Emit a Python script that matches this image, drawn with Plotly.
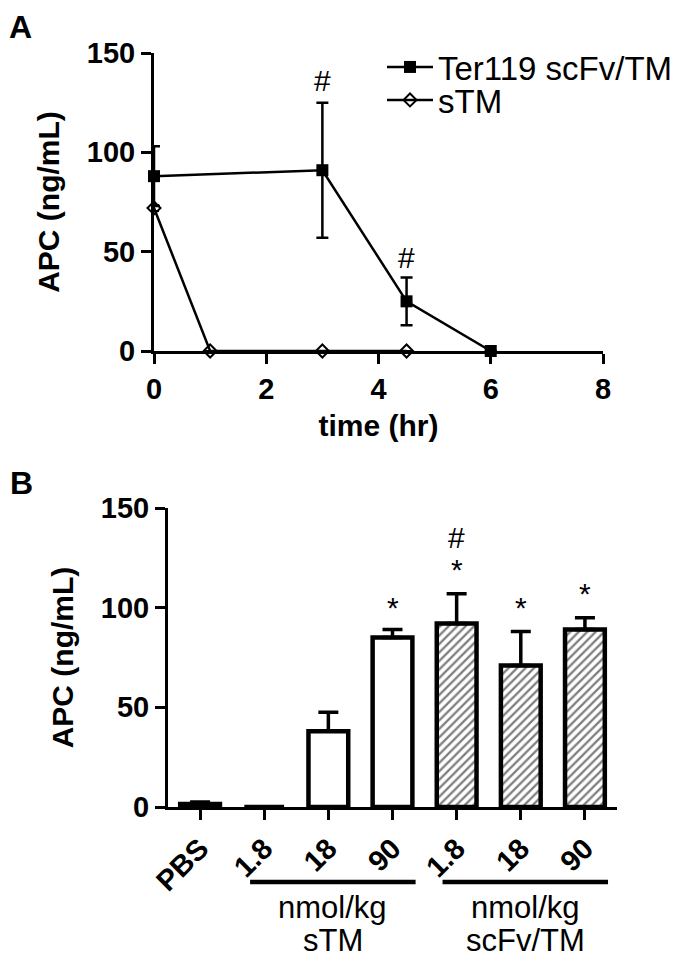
import plotly.graph_objects as go

OFF = 8  # browser default body margin
W, H = 680 - OFF, 962 - OFF
FONT = "Liberation Sans"

# ---------------- Panel A data ----------------
time_ter = [0, 3, 4.5, 6]
apc_ter = [88, 91, 25, 0]
err_ter = [15, 34, 12, 0]
time_stm = [0, 1, 3, 4.5]
apc_stm = [72, 0, 0, 0]
err_stm = [1.5, 0, 0, 0]
a_xticks = [0, 2, 4, 6, 8]
a_yticks = [0, 50, 100, 150]
a_marks_x = [3, 4.5]
a_marks_y = [136, 47]

# ---------------- Panel B data ----------------
b_labels = ["PBS", "1.8", "18", "90", "1.8", "18", "90"]
b_values = [1.5, 0, 38, 85, 92, 71, 89]
b_errors = [1, 0, 9.5, 4, 15, 17, 6]
b_hatched = [False, False, False, False, True, True, True]
b_yticks = [0, 50, 100, 150]
b_star_x = [3, 4, 5, 6]
b_star_y = [100, 119, 100, 107]
b_hash_x = [4]
b_hash_y = [135]
groups = [("nmol/kg", "sTM", 1, 3), ("nmol/kg", "scFv/TM", 4, 6)]

def px_x(p):
    return (p - OFF) / W

def px_y(p):
    return 1 - (p - OFF) / H

fig = go.Figure()

# Panel A traces
fig.add_trace(go.Scatter(
    x=time_ter, y=apc_ter, mode="lines+markers", name="Ter119 scFv/TM", legend="legend",
    line=dict(color="black", width=2.5),
    marker=dict(symbol="square", size=12, color="black"),
    error_y=dict(type="data", array=err_ter, color="black", thickness=2.5, width=6),
    cliponaxis=False, xaxis="x", yaxis="y"))
fig.add_trace(go.Scatter(
    x=time_stm, y=apc_stm, mode="lines+markers", name="sTM", legend="legend2",
    line=dict(color="black", width=2.5),
    marker=dict(symbol="diamond-open", size=10, color="black", line=dict(width=2)),
    error_y=dict(type="data", array=err_stm, color="black", thickness=2, width=5),
    cliponaxis=False, xaxis="x", yaxis="y"))

# Panel B bars
b_x = list(range(len(b_labels)))
fig.add_trace(go.Bar(
    x=b_x, y=b_values, width=0.62, showlegend=False,
    marker=dict(color="white", line=dict(color="black", width=4.5),
                pattern=dict(shape=["/" if h else "" for h in b_hatched],
                             fgcolor="black", bgcolor="white", size=6, solidity=0.38)),
    error_y=dict(type="data", symmetric=False, array=b_errors,
                 arrayminus=[0] * len(b_errors), color="black", thickness=3.5, width=10),
    cliponaxis=False, xaxis="x2", yaxis="y2"))

axis_common = dict(showline=True, linecolor="black", linewidth=3, ticks="outside",
                   ticklen=10, tickwidth=3, tickcolor="black", showgrid=False,
                   zeroline=False, automargin=False,
                   tickfont=dict(family=FONT, size=29, color="black", weight="bold"))
title_font = dict(family=FONT, size=30, weight="bold")
leg_common = dict(xanchor="left", yanchor="middle",
                  font=dict(family=FONT, size=33, color="black"), bgcolor="rgba(0,0,0,0)",
                  itemwidth=46)

fig.update_layout(
    width=W, height=H, margin=dict(l=0, r=0, t=0, b=0, autoexpand=False),
    paper_bgcolor="white", plot_bgcolor="white",
    font=dict(family=FONT, color="black"),
    xaxis=dict(domain=[px_x(154), px_x(603)], range=[0, 8], tickvals=a_xticks,
               anchor="y", **axis_common,
               title=dict(text="time (hr)", font=title_font, standoff=12)),
    yaxis=dict(domain=[px_y(351), px_y(53)], range=[0, 150], tickvals=a_yticks,
               anchor="x", **axis_common,
               title=dict(text="APC (ng/mL)", font=title_font, standoff=19)),
    xaxis2=dict(domain=[px_x(168), px_x(617)], range=[-0.5, 6.5], tickvals=b_x,
                ticktext=b_labels, tickangle=-45, anchor="y2", **axis_common),
    yaxis2=dict(domain=[px_y(807), px_y(508)], range=[0, 150], tickvals=b_yticks,
                anchor="x2", **axis_common,
                title=dict(text="APC (ng/mL)", font=title_font, standoff=19)),
    legend=dict(x=px_x(382), y=px_y(67), **leg_common),
    legend2=dict(x=px_x(382), y=px_y(100), **leg_common),
    showlegend=True,
)

ann = []
ann.append(dict(text="<b>A</b>", x=0, y=1, xref="paper", yref="paper", xanchor="left",
                yanchor="top", borderpad=0, showarrow=False, font=dict(family=FONT, size=32)))
ann.append(dict(text="<b>B</b>", x=0, y=px_y(483), xref="paper", yref="paper", xanchor="left",
                yanchor="middle", showarrow=False, font=dict(family=FONT, size=32)))
for xv, yv in zip(a_marks_x, a_marks_y):
    ann.append(dict(text="#", x=xv, y=yv, xref="x", yref="y", showarrow=False,
                    font=dict(family=FONT, size=30)))
for xv, yv in zip(b_star_x, b_star_y):
    ann.append(dict(text="*", x=xv, y=yv, xref="x2", yref="y2", showarrow=False,
                    font=dict(family=FONT, size=30)))
for xv, yv in zip(b_hash_x, b_hash_y):
    ann.append(dict(text="#", x=xv, y=yv, xref="x2", yref="y2", showarrow=False,
                    font=dict(family=FONT, size=30)))

shapes = []
for l1, l2, i0, i1 in groups:
    shapes.append(dict(type="line", xref="x2", yref="paper", x0=i0 - 0.22, x1=i1 + 0.36,
                       y0=px_y(882), y1=px_y(882), line=dict(color="black", width=4.5)))
    cx = (i0 + i1) / 2 + 0.07
    ann.append(dict(text=l1, x=cx, y=px_y(907), xref="x2", yref="paper", showarrow=False,
                    yanchor="middle", font=dict(family=FONT, size=31)))
    ann.append(dict(text=l2, x=cx, y=px_y(940), xref="x2", yref="paper", showarrow=False,
                    yanchor="middle", font=dict(family=FONT, size=31)))

fig.update_layout(annotations=ann, shapes=shapes)
fig.write_html("out.html")
